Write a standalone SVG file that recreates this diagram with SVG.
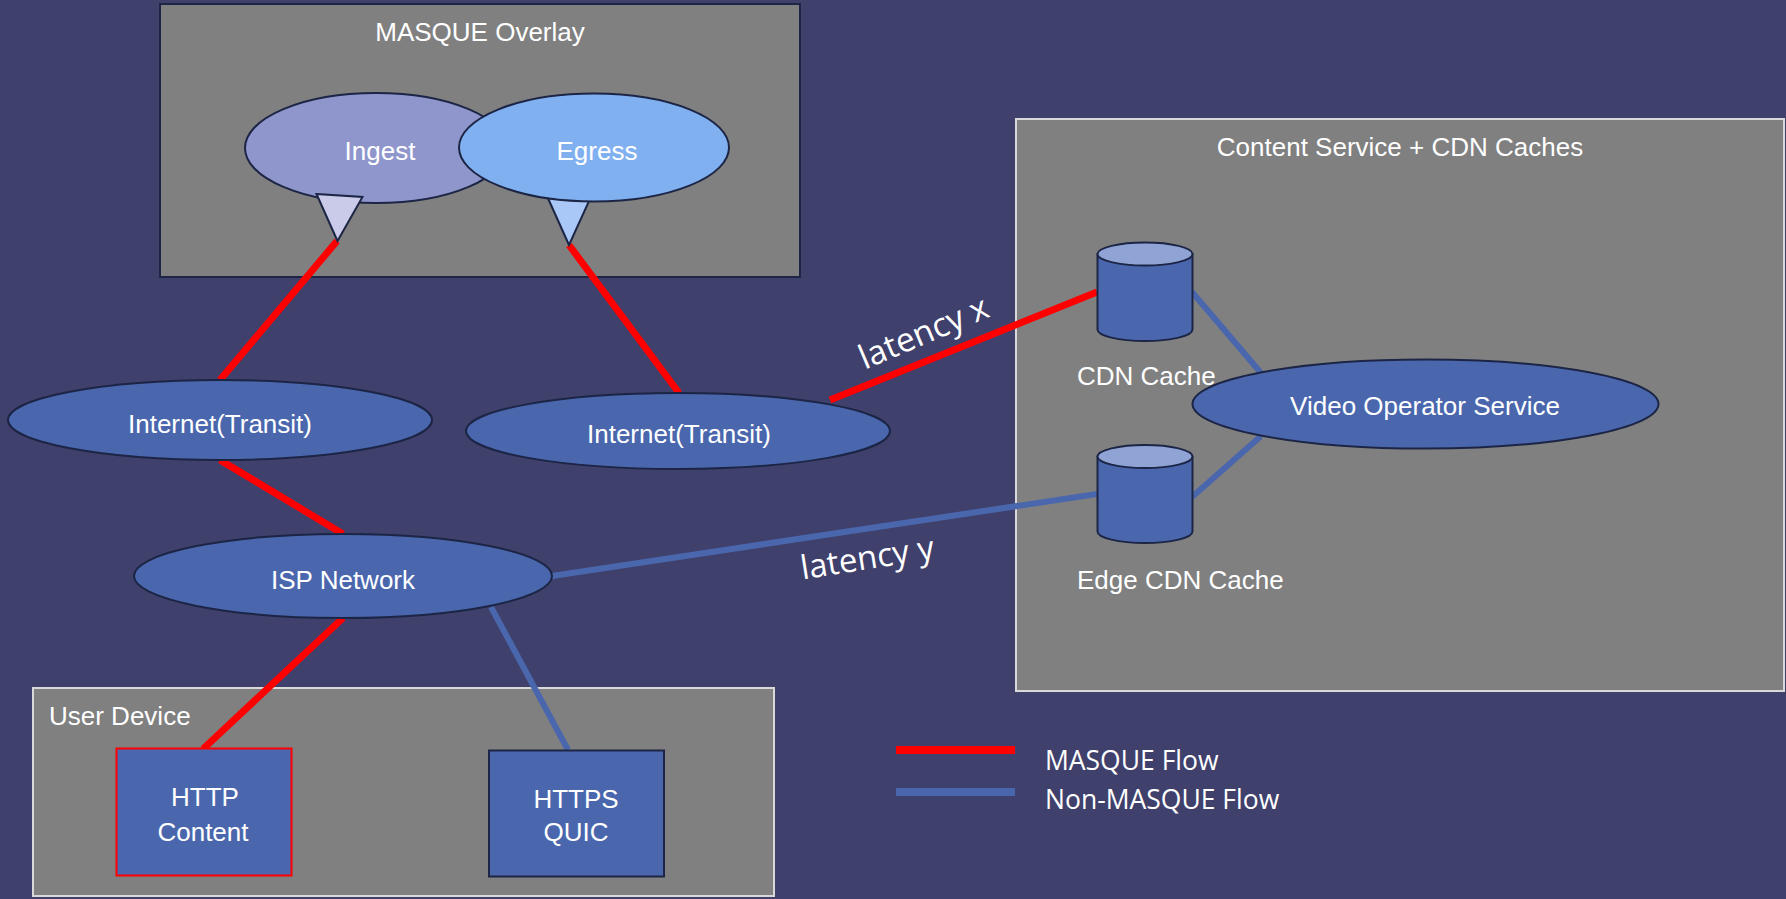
<svg xmlns="http://www.w3.org/2000/svg" width="1786" height="899" viewBox="0 0 1786 899">
<style>
.lbl{font-family:"Liberation Sans",Arial,sans-serif;font-size:26px;fill:#ffffff}
.mid{text-anchor:middle}
.seg{font-family:"Open Sans","Liberation Sans",sans-serif;fill:#ffffff}
.node{fill:#4A67AE;stroke:#1C2545;stroke-width:2}
.red{stroke:#FF0000;stroke-width:7;fill:none}
.blue{stroke:#4A67AE;stroke-width:6;fill:none}
.grp{fill:#808080}
</style>
<rect width="1786" height="899" fill="#3F406C"/>

<g id="masque-overlay">
  <rect x="160" y="4" width="640" height="273" class="grp" stroke="#1C2545" stroke-width="2"/>
  <text x="480" y="41" class="lbl mid">MASQUE Overlay</text>
</g>
<g id="content-service">
  <rect x="1016" y="119" width="768" height="572" class="grp" stroke="#D9D9D9" stroke-width="2"/>
  <text x="1400" y="156" class="lbl mid">Content Service + CDN Caches</text>
</g>
<g id="user-device">
  <rect x="33" y="688" width="741" height="208" class="grp" stroke="#D9D9D9" stroke-width="2"/>
  <text x="49" y="725" class="lbl">User Device</text>
</g>

<g id="connectors">
  <line class="red" x1="337" y1="241" x2="220" y2="380"/>
  <line class="red" x1="569" y1="245" x2="679" y2="393"/>
  <line class="red" x1="830" y1="400" x2="1097" y2="292"/>
  <line class="red" x1="220" y1="460" x2="343" y2="534"/>
  <line class="red" x1="343" y1="618" x2="203" y2="749"/>
  <line class="blue" x1="491" y1="607" x2="568" y2="750"/>
  <line class="blue" x1="552" y1="576" x2="1097" y2="494"/>
  <line class="blue" x1="1192" y1="292" x2="1261" y2="373"/>
  <line class="blue" x1="1192" y1="497" x2="1261" y2="436"/>
</g>

<g id="ingest">
  <ellipse cx="376" cy="148" rx="131" ry="55" fill="#8F96CC" stroke="#1C2545" stroke-width="2"/>
  <polygon points="316.5,194 362.5,197 337.5,241" fill="#C9CBE8" stroke="#1C2545" stroke-width="2"/>
  <text x="380" y="160" class="lbl mid">Ingest</text>
</g>
<g id="egress">
  <polygon points="547,196 590,199 569,245" fill="#A9C8F8" stroke="#1C2545" stroke-width="2"/>
  <ellipse cx="594" cy="147.5" rx="135" ry="54" fill="#80B0F0" stroke="#1C2545" stroke-width="2"/>
  <text x="597" y="160" class="lbl mid">Egress</text>
</g>
<g id="internet-left">
  <ellipse cx="220" cy="420" rx="212" ry="40" class="node"/>
  <text x="220" y="433" class="lbl mid">Internet(Transit)</text>
</g>
<g id="internet-right">
  <ellipse cx="678" cy="431" rx="212" ry="38" class="node"/>
  <text x="679" y="443" class="lbl mid">Internet(Transit)</text>
</g>
<g id="isp-network">
  <ellipse cx="343" cy="576" rx="209" ry="42" class="node"/>
  <text x="343" y="589" class="lbl mid">ISP Network</text>
</g>
<g id="cdn-cache">
  <path d="M1097.5,254 L1097.5,329.5 A47.5,11.5 0 0 0 1192.5,329.5 L1192.5,254 Z" class="node"/>
  <ellipse cx="1145" cy="254" rx="47.5" ry="11.5" fill="#8FA4D4" stroke="#1C2545" stroke-width="2"/>
  <text x="1077" y="385" class="lbl" font-size="24.5">CDN Cache</text>
</g>
<g id="edge-cdn-cache">
  <path d="M1097.5,456.5 L1097.5,531.5 A47.5,11.5 0 0 0 1192.5,531.5 L1192.5,456.5 Z" class="node"/>
  <ellipse cx="1145" cy="456.5" rx="47.5" ry="11.5" fill="#8FA4D4" stroke="#1C2545" stroke-width="2"/>
  <text x="1077" y="589" class="lbl" font-size="24.5">Edge CDN Cache</text>
</g>
<g id="video-operator-service">
  <ellipse cx="1425.5" cy="404" rx="233" ry="44.5" class="node"/>
  <text x="1425" y="415" class="lbl mid">Video Operator Service</text>
</g>
<g id="http-content">
  <rect x="116.5" y="748.5" width="175" height="127" fill="#4A67AE" stroke="#FF0000" stroke-width="2"/>
  <text x="205" y="806" class="lbl mid" font-size="24">HTTP</text>
  <text x="203" y="841" class="lbl mid" font-size="24">Content</text>
</g>
<g id="https-quic">
  <rect x="489" y="750.5" width="175" height="126" class="node"/>
  <text x="576" y="808" class="lbl mid" font-size="24">HTTPS</text>
  <text x="576" y="841" class="lbl mid" font-size="24">QUIC</text>
</g>

<g id="latency-labels">
  <text class="seg" font-size="33.5" text-anchor="middle" transform="translate(928,343) rotate(-23)">latency x</text>
  <text class="seg" font-size="33" text-anchor="middle" transform="translate(869,569) rotate(-9)">latency y</text>
</g>

<g id="legend">
  <line x1="896" y1="750" x2="1015" y2="750" stroke="#FF0000" stroke-width="8"/>
  <line x1="896" y1="792" x2="1015" y2="792" stroke="#4A67AE" stroke-width="8"/>
  <text x="1045" y="770" class="seg" font-size="26.5">MASQUE Flow</text>
  <text x="1045" y="809" class="seg" font-size="26.5">Non-MASQUE Flow</text>
</g>
</svg>
